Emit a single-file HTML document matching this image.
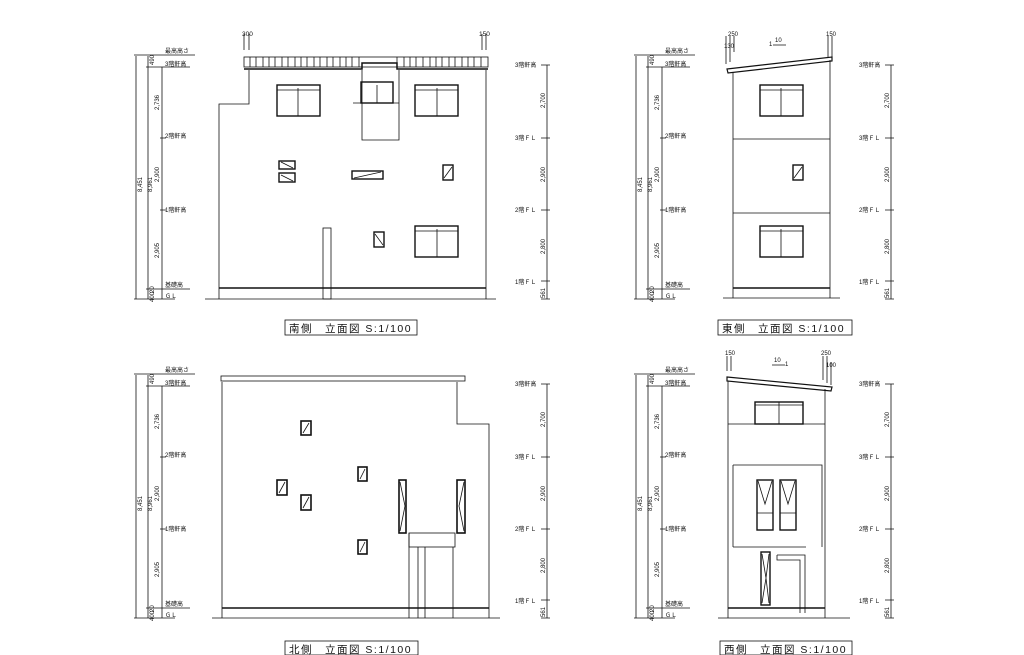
<!DOCTYPE html><html><head><meta charset="utf-8"><style>
html,body{margin:0;padding:0;background:#fff;width:1024px;height:655px;overflow:hidden}
svg{display:block}
text{font-family:"Liberation Sans","Noto Sans CJK JP",sans-serif;fill:#111}
.d text{font-size:6px}
.lb{font-size:10.5px;letter-spacing:1.5px}
</style></head><body>
<svg width="1024" height="655" viewBox="0 0 1024 655" xmlns="http://www.w3.org/2000/svg" fill="none" stroke="#111" stroke-width="0.8">

<!-- ===== SOUTH ===== -->
<g class="d">
<path d="M136 56V299M148 56V299M162 67V299M134 55H195M146 67H190M160 138H166M160 210H166M146 289H190M134 299H175M547 65V299M541 65H550M541 138H550M541 210H550M541 281H550M541 299H550"/>
<g stroke="none">
<text x="165" y="53">最高高さ</text><text x="165" y="66">3階軒高</text><text x="165" y="138">2階軒高</text><text x="165" y="212">1階軒高</text><text x="165" y="287">基礎高</text><text x="165" y="298">ＧＬ</text>
<text x="515" y="67">3階軒高</text><text x="515" y="140">3階ＦＬ</text><text x="515" y="212">2階ＦＬ</text><text x="515" y="284">1階ＦＬ</text>
<text transform="translate(142,192) rotate(-90)">8,451</text><text transform="translate(152,192) rotate(-90)">8,961</text>
<text transform="translate(154,65) rotate(-90)">490</text><text transform="translate(159,110) rotate(-90)">2,736</text><text transform="translate(159,182) rotate(-90)">2,900</text><text transform="translate(159,258) rotate(-90)">2,905</text><text transform="translate(154,293) rotate(-90)">20</text><text transform="translate(154,302) rotate(-90)">400</text>
<text transform="translate(545,108) rotate(-90)">2,700</text><text transform="translate(545,182) rotate(-90)">2,900</text><text transform="translate(545,254) rotate(-90)">2,800</text><text transform="translate(545,298) rotate(-90)">561</text>
</g></g>
<path d="M244 34V50M249 34V50M482 34V50M486 34V50"/>
<text x="242" y="36" style="font-size:6.5px" stroke="none">300</text><text x="479" y="36" style="font-size:6.5px" stroke="none">150</text>
<rect x="244" y="57" width="244" height="10"/>
<path d="M250 57V67M256 57V67M263 57V67M269 57V67M275 57V67M282 57V67M288 57V67M295 57V67M301 57V67M307 57V67M314 57V67M320 57V67M327 57V67M333 57V67M340 57V67M346 57V67M352 57V67M359 57V67M397 57V67M404 57V67M410 57V67M416 57V67M423 57V67M430 57V67M436 57V67M442 57V67M449 57V67M455 57V67M462 57V67M468 57V67M474 57V67M481 57V67"/>
<path d="M244 69H362V63H397V69H488" stroke-width="1.5"/>
<path d="M249 70V104H219V299M486 70V299M362 70V140H399V70M205 299H496" />
<path d="M219 288H486" stroke-width="1.6"/>
<g stroke-width="1.4"><rect x="277" y="85" width="43" height="31"/><rect x="415" y="85" width="43" height="31"/><rect x="415" y="226" width="43" height="31"/><rect x="361" y="82" width="32" height="21"/><rect x="279" y="161" width="16" height="8"/><rect x="279" y="173" width="16" height="9"/><rect x="352" y="171" width="31" height="8"/><rect x="443" y="165" width="10" height="15"/><rect x="374" y="232" width="10" height="15"/></g>
<path d="M298 88V116M437 88V116M437 229V257M377 85V103M277 90H320M415 90H458M415 231H458M353 103H399M281 162L293 168M281 175L293 181M354 178L381 172M444 178L452 167M375 234L383 245"/>
<rect x="323" y="228" width="8" height="71"/>
<rect x="285" y="320" width="132" height="15"/>
<text class="lb" x="289" y="332" stroke="none">南側　立面図 S:1/100</text>

<!-- ===== EAST ===== -->
<g class="d">
<path d="M636 56V299M648 56V299M662 67V299M634 55H695M646 67H690M660 138H666M660 210H666M646 289H690M634 299H675M891 65V299M885 65H894M885 138H894M885 210H894M885 281H894M885 299H894"/>
<g stroke="none">
<text x="665" y="53">最高高さ</text><text x="665" y="66">3階軒高</text><text x="665" y="138">2階軒高</text><text x="665" y="212">1階軒高</text><text x="665" y="287">基礎高</text><text x="665" y="298">ＧＬ</text>
<text x="859" y="67">3階軒高</text><text x="859" y="140">3階ＦＬ</text><text x="859" y="212">2階ＦＬ</text><text x="859" y="284">1階ＦＬ</text>
<text transform="translate(642,192) rotate(-90)">8,451</text><text transform="translate(652,192) rotate(-90)">8,961</text>
<text transform="translate(654,65) rotate(-90)">490</text><text transform="translate(659,110) rotate(-90)">2,736</text><text transform="translate(659,182) rotate(-90)">2,900</text><text transform="translate(659,258) rotate(-90)">2,905</text><text transform="translate(654,293) rotate(-90)">20</text><text transform="translate(654,302) rotate(-90)">400</text>
<text transform="translate(889,108) rotate(-90)">2,700</text><text transform="translate(889,182) rotate(-90)">2,900</text><text transform="translate(889,254) rotate(-90)">2,800</text><text transform="translate(889,298) rotate(-90)">561</text>
<text x="728" y="36">250</text><text x="724" y="48">130</text><text x="826" y="36">150</text><text x="775" y="42">10</text><text x="769" y="46">1</text>
</g></g>
<path d="M726 36V64M730 36V62M734 36V52M828 36V58M832 36V58M773 45H786"/>
<path d="M727 69L832 57L832 61L728 73Z" stroke-width="1.2"/>
<path d="M733 72V298M830 60V298M733 139H830M733 213H830M723 298H840"/>
<path d="M733 288H830" stroke-width="1.6"/>
<g stroke-width="1.4"><rect x="760" y="85" width="43" height="31"/><rect x="760" y="226" width="43" height="31"/><rect x="793" y="165" width="10" height="15"/></g>
<path d="M781 88V116M781 229V257M760 90H803M760 231H803M794 178L802 167"/>
<rect x="718" y="320" width="134" height="15"/>
<text class="lb" x="722" y="332" stroke="none">東側　立面図 S:1/100</text>

<!-- ===== NORTH ===== -->
<g class="d">
<path d="M136 375V618M148 375V618M162 386V618M134 374H195M146 386H190M160 457H166M160 529H166M146 608H190M134 618H175M547 384V618M541 384H550M541 457H550M541 529H550M541 600H550M541 618H550"/>
<g stroke="none">
<text x="165" y="372">最高高さ</text><text x="165" y="385">3階軒高</text><text x="165" y="457">2階軒高</text><text x="165" y="531">1階軒高</text><text x="165" y="606">基礎高</text><text x="165" y="617">ＧＬ</text>
<text x="515" y="386">3階軒高</text><text x="515" y="459">3階ＦＬ</text><text x="515" y="531">2階ＦＬ</text><text x="515" y="603">1階ＦＬ</text>
<text transform="translate(142,511) rotate(-90)">8,451</text><text transform="translate(152,511) rotate(-90)">8,961</text>
<text transform="translate(154,384) rotate(-90)">490</text><text transform="translate(159,429) rotate(-90)">2,736</text><text transform="translate(159,501) rotate(-90)">2,900</text><text transform="translate(159,577) rotate(-90)">2,905</text><text transform="translate(154,612) rotate(-90)">20</text><text transform="translate(154,621) rotate(-90)">400</text>
<text transform="translate(545,427) rotate(-90)">2,700</text><text transform="translate(545,501) rotate(-90)">2,900</text><text transform="translate(545,573) rotate(-90)">2,800</text><text transform="translate(545,617) rotate(-90)">561</text>
</g></g>
<rect x="221" y="376" width="244" height="5"/>
<path d="M222 382V618M457 382V424H489V618M212 618H500M409 533V618M418 547V618M425 547V618M453 547V618"/>
<path d="M222 608H489" stroke-width="1.6"/>
<rect x="409" y="533" width="46" height="14"/>
<g stroke-width="1.6"><rect x="301" y="421" width="10" height="14"/><rect x="358" y="467" width="9" height="14"/><rect x="277" y="480" width="10" height="15"/><rect x="301" y="495" width="10" height="15"/><rect x="358" y="540" width="9" height="14"/><rect x="399" y="480" width="7" height="53"/><rect x="457" y="480" width="8" height="53"/></g>
<path d="M303 433L309 423M360 479L365 469M279 493L285 482M303 508L309 497M360 552L365 542M400 482L405 506L400 531M464 482L459 506L464 531"/>
<rect x="285" y="641" width="133" height="14"/>
<text class="lb" x="289" y="653" stroke="none">北側　立面図 S:1/100</text>

<!-- ===== WEST ===== -->
<g class="d">
<path d="M636 375V618M648 375V618M662 386V618M634 374H695M646 386H690M660 457H666M660 529H666M646 608H690M634 618H675M891 384V618M885 384H894M885 457H894M885 529H894M885 600H894M885 618H894"/>
<g stroke="none">
<text x="665" y="372">最高高さ</text><text x="665" y="385">3階軒高</text><text x="665" y="457">2階軒高</text><text x="665" y="531">1階軒高</text><text x="665" y="606">基礎高</text><text x="665" y="617">ＧＬ</text>
<text x="859" y="386">3階軒高</text><text x="859" y="459">3階ＦＬ</text><text x="859" y="531">2階ＦＬ</text><text x="859" y="603">1階ＦＬ</text>
<text transform="translate(642,511) rotate(-90)">8,451</text><text transform="translate(652,511) rotate(-90)">8,961</text>
<text transform="translate(654,384) rotate(-90)">490</text><text transform="translate(659,429) rotate(-90)">2,736</text><text transform="translate(659,501) rotate(-90)">2,900</text><text transform="translate(659,577) rotate(-90)">2,905</text><text transform="translate(654,612) rotate(-90)">20</text><text transform="translate(654,621) rotate(-90)">400</text>
<text transform="translate(889,427) rotate(-90)">2,700</text><text transform="translate(889,501) rotate(-90)">2,900</text><text transform="translate(889,573) rotate(-90)">2,800</text><text transform="translate(889,617) rotate(-90)">561</text>
<text x="725" y="355">150</text><text x="821" y="355">250</text><text x="826" y="367">100</text><text x="774" y="362">10</text><text x="785" y="366">1</text>
</g></g>
<path d="M727 356V371M731 356V371M823 356V380M827 356V383M831 362V385M772 365H785"/>
<path d="M727 377L832 387L831 391L727 381Z" stroke-width="1.2"/>
<path d="M728 381V618M825 389V618M728 424H825M733 465H822V547M733 465V547M733 547H806M718 618H850M777 555H805V613M777 555V560H800V613"/>
<path d="M728 608H825" stroke-width="1.6"/>
<g stroke-width="1.4"><rect x="755" y="402" width="48" height="22"/><rect x="757" y="480" width="16" height="50"/><rect x="780" y="480" width="16" height="50"/><rect x="761" y="552" width="9" height="53"/></g>
<path d="M779 402V424M755 405H803M757 513H773M780 513H796M758 481L765 504L772 481M781 481L788 504L795 481M762 554L766 578L762 603M769 554L766 578L769 603"/>
<rect x="720" y="641" width="132" height="14"/>
<text class="lb" x="724" y="653" stroke="none">西側　立面図 S:1/100</text>
</svg>
</body></html>
